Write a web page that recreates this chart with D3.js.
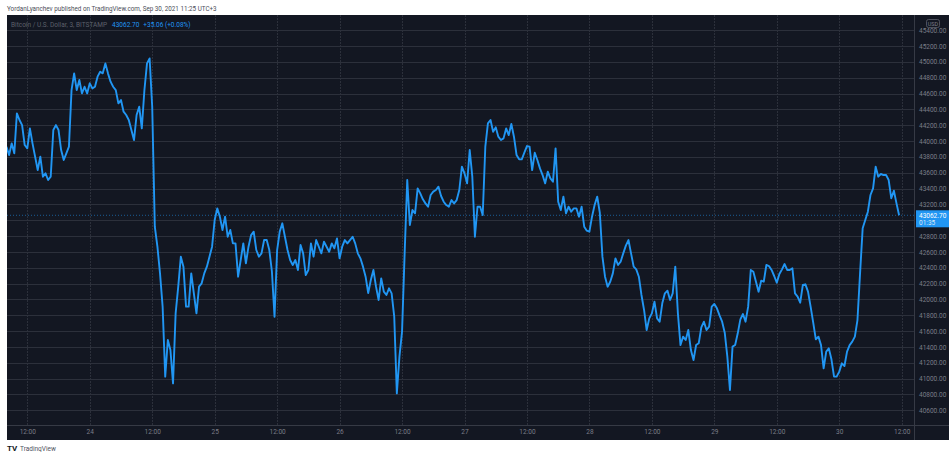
<!DOCTYPE html>
<html><head><meta charset="utf-8">
<script src="https://cdn.jsdelivr.net/npm/d3@7/dist/d3.min.js"></script>
<style>
html,body{margin:0;padding:0;background:#fff;}
svg{display:block;font-family:Roboto,"Liberation Sans",sans-serif;}
</style></head>
<body><svg id="c" width="951" height="452"></svg>
<script>
// ---- data (30-minute closes, BTC/USD Bitstamp, Sep 23 08:00 → Sep 30 11:30) ----
const startTime = "2021-09-23T08:00";
const stepMinutes = 30;
const prices = [
43929,43824,43971,43845,44350,44266,44202,43950,43908,44160,43971,43803,
43634,43803,43550,43592,43508,43550,44139,44202,44139,43887,43761,43845,
43929,44644,44855,44644,44771,44602,44686,44602,44729,44665,44686,44813,
44876,44855,44981,44855,44750,44686,44644,44476,44518,44371,44329,44266,
44139,44013,44329,44434,44160,44644,44981,45044,44434,42919,42666,42329,
41909,41025,41488,41361,40940,41824,42161,42540,42414,41909,41909,42329,
42077,41824,42161,42203,42329,42414,42540,42666,43003,43150,43045,42877,
43045,42792,42877,42708,42708,42287,42498,42708,42456,42666,42813,42856,
42624,42540,42582,42750,42750,42624,42350,41782,42624,42856,42961,42792,
42624,42498,42435,42498,42372,42687,42582,42308,42372,42708,42540,42750,
42666,42582,42729,42666,42603,42708,42645,42771,42519,42666,42750,42708,
42750,42792,42708,42582,42519,42414,42287,42080,42245,42372,42161,41993,
42266,42098,42056,42140,42077,41782,40814,41277,41593,42582,43508,42940,
43129,43087,43403,43340,43264,43213,43171,43319,43361,43382,43424,43306,
43234,43192,43171,43255,43213,43255,43382,43676,43592,43466,43887,43550,
42792,43171,43171,43066,43929,44224,44266,44118,44173,44055,44013,44034,
44160,44076,44215,44055,43824,43769,43769,43853,43937,43929,43634,43853,
43761,43655,43571,43466,43613,43529,43487,43908,43234,43129,43298,43087,
43171,43108,43150,43150,43045,43171,42919,42868,42856,43045,43192,43298,
43095,42540,42287,42161,42224,42329,42519,42435,42477,42582,42679,42750,
42582,42414,42380,42287,42056,41867,41614,41761,41824,41972,41761,41719,
41951,42077,42111,41993,42077,42414,41824,41424,41530,41488,41614,41361,
41235,41424,41446,41648,41719,41614,41656,41909,41942,41888,41799,41719,
41580,41277,40856,41404,41424,41572,41749,41816,41719,41909,42372,42350,
42224,42098,42237,42224,42435,42422,42372,42296,42212,42321,42380,42447,
42372,42372,42393,42077,42035,41959,42182,42191,42098,41909,41707,41496,
41530,41424,41130,41340,41382,41244,41025,41025,41088,41193,41159,41340,
41424,41467,41530,41740,42329,42898,43003,43108,43319,43403,43676,43550,
43584,43571,43571,43508,43277,43373,43213,43062.70
];
const yTicks = [40600,40800,41000,41200,41400,41600,41800,42000,42200,42400,42600,42800,43000,43200,43400,43600,43800,44000,44200,44400,44600,44800,45000,45200,45400];
const xTickTimes = ["2021-09-23T12:00","2021-09-24T00:00","2021-09-24T12:00","2021-09-25T00:00","2021-09-25T12:00","2021-09-26T00:00","2021-09-26T12:00","2021-09-27T00:00","2021-09-27T12:00","2021-09-28T00:00","2021-09-28T12:00","2021-09-29T00:00","2021-09-29T12:00","2021-09-30T00:00","2021-09-30T12:00"];
const headerText = "YordanLyanchev published on TradingView.com, Sep 30, 2021 11:25 UTC+3";
const legendSymbol = "Bitcoin / U.S. Dollar, 3, BITSTAMP";
const lastPrice = "43062.70";
const lastChange = "+35.06 (+0.08%)";
const countdown = "01:35";

// ---- layout ----
const W = 951, H = 452;
const P = {l:7, t:15, r:949, b:440, plotR:914, plotB:425};
const C = {bg:"#131722", grid:"#2c303b", axisText:"#7b7e88", line:"#2196f3", sep:"#363a45"};

const parse = d3.timeParse("%Y-%m-%dT%H:%M");
const t0 = parse(startTime);
const data = prices.map((v,i)=>({t:d3.timeMinute.offset(t0, i*stepMinutes), v}));
const xt = xTickTimes.map(parse);

const x = d3.scaleTime().domain([xt[0], xt[xt.length-1]]).range([27.3, 901.7]);
const y = d3.scaleLinear().domain([40600, 45400]).range([410.3, 30.2]);

const svg = d3.select("#c");
svg.append("rect").attr("x",0).attr("y",0).attr("width",W).attr("height",H).attr("fill","#fff");
svg.append("text").attr("x",7).attr("y",11).attr("font-size",6.3).attr("fill","#4a4d57").text(headerText);

svg.append("rect").attr("x",P.l).attr("y",P.t).attr("width",P.r-P.l).attr("height",P.b-P.t).attr("fill",C.bg);

const clip = svg.append("defs").append("clipPath").attr("id","plotclip");
clip.append("rect").attr("x",P.l).attr("y",P.t).attr("width",P.plotR-P.l).attr("height",P.plotB-P.t);

// horizontal grid
const gy = svg.append("g");
gy.selectAll("line").data(yTicks.filter(v=>y(v)>P.t && y(v)<P.plotB)).join("line")
  .attr("x1",P.l).attr("x2",P.plotR)
  .attr("y1",d=>Math.round(y(d))+0.5).attr("y2",d=>Math.round(y(d))+0.5)
  .attr("stroke",C.grid).attr("stroke-width",1);
// vertical grid
const gx = svg.append("g");
gx.selectAll("line").data(xt).join("line")
  .attr("x1",d=>Math.round(x(d))+0.5).attr("x2",d=>Math.round(x(d))+0.5)
  .attr("y1",P.t).attr("y2",P.plotB)
  .attr("stroke",C.grid).attr("stroke-width",1).attr("stroke-dasharray","2,1");

// price line (dotted)
svg.append("line").attr("x1",P.l).attr("x2",P.plotR)
  .attr("y1",y(+lastPrice)).attr("y2",y(+lastPrice))
  .attr("stroke",C.line).attr("stroke-opacity",0.55).attr("stroke-dasharray","1,2");

// series line
const line = d3.line().x(d=>x(d.t)).y(d=>y(d.v)).curve(d3.curveLinear);
svg.append("path").datum(data).attr("clip-path","url(#plotclip)")
  .attr("d",line).attr("fill","none").attr("stroke",C.line)
  .attr("stroke-width",1.9).attr("stroke-linejoin","round");

// separators
svg.append("line").attr("x1",P.plotR+0.5).attr("x2",P.plotR+0.5).attr("y1",P.t).attr("y2",P.b).attr("stroke",C.sep);
svg.append("line").attr("x1",P.l).attr("x2",P.r).attr("y1",P.plotB+0.5).attr("y2",P.plotB+0.5).attr("stroke",C.sep);

// y axis labels (the one under the last-price box is hidden, as in the original)
const ly = y(+lastPrice);
const visibleY = yTicks.filter(v => Math.abs(y(v) - (ly+3.5)) > 10);
const yAxis = d3.axisRight(y).tickValues(visibleY).tickSize(0).tickPadding(0).tickFormat(d3.format(".2f"));
const ya = svg.append("g").attr("transform",`translate(${P.plotR+5},0)`).call(yAxis);
ya.select(".domain").remove();
ya.selectAll("text").attr("font-size",6.5).attr("fill",C.axisText).attr("font-family","Roboto,'Liberation Sans',sans-serif");

// x axis labels
const fmtX = d => d.getHours()===0 ? d3.timeFormat("%-d")(d) : d3.timeFormat("%H:%M")(d);
const xAxis = d3.axisBottom(x).tickValues(xt).tickSize(0).tickPadding(0).tickFormat(fmtX);
const xa = svg.append("g").attr("transform",`translate(0,${P.plotB+4})`).call(xAxis);
xa.select(".domain").remove();
xa.selectAll("text").attr("font-size",6.5).attr("fill",C.axisText).attr("font-family","Roboto,'Liberation Sans',sans-serif");

// USD box
svg.append("rect").attr("x",926.5).attr("y",19.5).attr("width",13).attr("height",8).attr("rx",2)
  .attr("fill",C.bg).attr("stroke","#5d606b").attr("stroke-width",0.8);
svg.append("text").attr("x",933).attr("y",25.8).attr("text-anchor","middle").attr("font-size",5.5).attr("fill","#7b7e88").text("USD");

// last price label
svg.append("rect").attr("x",P.plotR+2).attr("y",ly-5).attr("width",P.r-P.plotR-2).attr("height",17).attr("fill",C.line);
svg.append("text").attr("x",P.plotR+5).attr("y",ly+2.3).attr("font-size",6.5).attr("fill","#fff").text(lastPrice);
svg.append("text").attr("x",P.plotR+5).attr("y",ly+10).attr("font-size",6.5).attr("fill","#dbe9f7").text(countdown);

// legend
const lg = svg.append("text").attr("x",11).attr("y",26.5).attr("font-size",6.5);
lg.append("tspan").attr("fill","#5d606b").text(legendSymbol);
lg.append("tspan").attr("dx",5).attr("fill",C.line).text(lastPrice);
lg.append("tspan").attr("dx",4).attr("fill",C.line).text(lastChange);

// footer logo
const f = svg.append("g").attr("transform","translate(7,444)");
f.append("text").attr("x",0).attr("y",7).attr("font-size",8).attr("font-weight","bold").attr("fill","#131722").text("TV");
f.append("text").attr("x",13).attr("y",7).attr("font-size",6.5).attr("fill","#50535e").text("TradingView");
</script></body></html>
